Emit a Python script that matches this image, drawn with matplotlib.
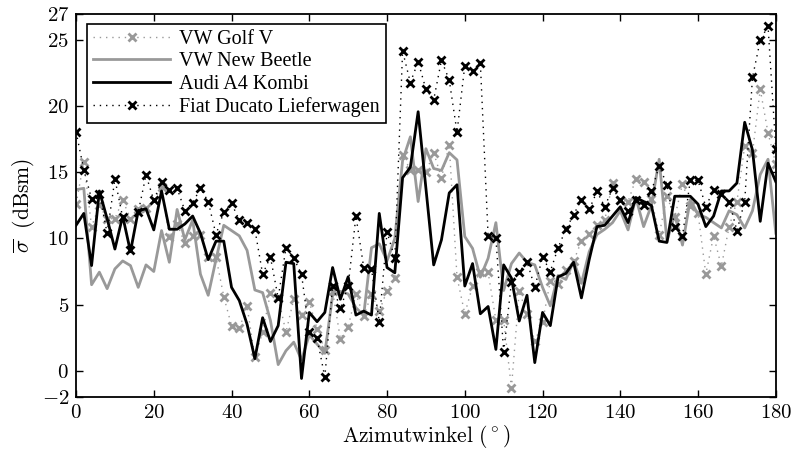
import numpy as np
import matplotlib
matplotlib.use("Agg")
import matplotlib.pyplot as plt

# Azimutwinkel in 2-Grad-Schritten
angles = np.arange(0, 181, 2)

golf = [12.6, 15.8, 10.9, 12.5, 11.5, 11.5, 12.9, 11.5, 12.2, 12.3,
        12.9, 13.9, 10.1, 11.1, 9.65, 10.2, 10.3, 8.6, 8.6, 5.6,
        3.4, 3.2, 4.85, 1.0, 2.9, 5.85, 5.55, 2.9, 5.4, 4.2,
        5.2, 3.15, 1.55, 6.0, 2.4, 3.3, 5.8, 4.1, 5.8, 4.5,
        6.06, 7.0, 16.3, 15.2, 15.15, 15.0, 16.5, 14.6, 17.1, 7.07,
        4.3, 6.4, 7.45, 7.45, 3.8, 3.8, -1.3, 6.0, 4.3, 2.2,
        3.66, 6.8, 6.56, 7.6, 8.3, 9.8, 10.35, 11.0, 11.4, 14.2,
        12.9, 12.8, 14.5, 14.3, 13.0, 10.3, 13.2, 11.6, 14.15, 12.45,
        11.9, 7.3, 10.2, 7.9, 10.9, 12.8, 17.0, 16.5, 21.3, 18.0,
        15.65]

beetle = [13.7, 13.8, 6.5, 7.45, 6.2, 7.7, 8.3, 7.95, 6.3, 8.0,
          7.5, 10.6, 8.2, 12.2, 9.9, 11.4, 7.3, 5.7, 8.4, 11.0,
          10.6, 10.2, 9.1, 6.1, 5.9, 3.8, 0.45, 1.5, 2.15, 0.8,
          2.7, 2.0, 1.3, 5.7, 6.0, 5.8, 4.75, 4.2, 9.3, 9.6,
          8.3, 10.0, 15.9, 17.7, 12.8, 16.8, 15.3, 15.15, 16.5, 15.95,
          10.15, 9.25, 7.07, 8.5, 11.2, 6.06, 8.1, 8.9, 8.2, 8.0,
          6.3, 4.9, 7.2, 6.9, 8.3, 6.6, 9.0, 10.3, 10.7, 11.2,
          12.1, 10.65, 13.1, 10.9, 12.5, 16.0, 9.8, 11.8, 9.5, 12.95,
          11.8, 11.6, 11.2, 10.8, 12.1, 11.8, 10.8, 12.1, 14.85, 16.0,
          10.4]

audi = [11.0, 11.9, 7.95, 13.6, 11.5, 9.2, 11.7, 9.0, 12.1, 12.25,
        10.65, 13.6, 10.7, 10.7, 11.1, 11.7, 10.4, 8.4, 9.8, 9.8,
        6.3, 5.3, 3.5, 0.9, 4.0, 2.2, 3.4, 8.2, 8.1, -0.6,
        4.4, 3.7, 4.4, 7.8, 5.4, 7.1, 4.2, 4.5, 4.2, 11.9,
        7.8, 7.4, 14.6, 15.4, 19.6, 13.8, 8.0, 9.9, 13.45, 14.07,
        6.4, 8.1, 4.3, 4.85, 1.6, 8.0, 7.0, 3.75, 5.7, 0.6,
        4.4, 3.4, 7.1, 7.35, 8.2, 5.5, 8.4, 10.9, 11.0, 11.7,
        12.4, 11.2, 13.1, 12.8, 12.5, 9.8, 9.7, 13.2, 13.2, 13.2,
        12.6, 10.9, 11.7, 13.6, 13.6, 14.2, 18.8, 16.7, 11.3, 15.7,
        14.3]

fiat = [18.1, 15.2, 13.0, 13.4, 10.4, 14.5, 11.6, 9.1, 12.0, 14.8,
        12.9, 14.3, 13.7, 13.8, 12.1, 12.7, 13.8, 12.8, 10.3, 12.0,
        12.65, 11.4, 11.2, 10.7, 7.3, 8.6, 5.5, 9.3, 8.5, 7.3,
        2.9, 2.45, -0.5, 6.4, 4.7, 6.4, 11.7, 7.8, 7.7, 3.7,
        10.5, 8.5, 24.2, 21.8, 23.4, 21.3, 20.5, 23.5, 22.0, 18.05,
        23.1, 22.65, 23.3, 10.2, 10.05, 1.4, 6.7, 7.45, 8.25, 6.3,
        8.6, 7.5, 9.3, 10.7, 11.8, 12.95, 12.2, 13.56, 12.4, 13.8,
        12.9, 12.05, 12.95, 12.5, 13.56, 15.5, 14.07, 10.9, 10.2, 14.4,
        14.4, 12.4, 13.7, 13.4, 12.8, 10.6, 12.8, 22.2, 25.0, 26.1,
        16.8]

labels = ["VW Golf V", "VW New Beetle", "Audi A4 Kombi", "Fiat Ducato Lieferwagen"]
xticks = [0, 20, 40, 60, 80, 100, 120, 140, 160, 180]
yticks = [-2, 0, 5, 10, 15, 20, 25, 27]

plt.rcParams['font.family'] = 'serif'
plt.rcParams['font.serif'] = ['cmr10']
plt.rcParams['mathtext.fontset'] = 'cm'
plt.rcParams['axes.formatter.use_mathtext'] = True

grey = '#999999'
dots = (0, (1, 3.5))

fig = plt.figure(figsize=(7.97, 4.67), dpi=100)
ax = fig.add_axes([0.0954, 0.150, 0.878, 0.820])

ax.plot(angles, golf, linestyle=dots, lw=1.0, color=grey, marker='x',
        ms=5.5, mew=2, label=labels[0])
ax.plot(angles, beetle, '-', lw=2, color=grey, label=labels[1])
ax.plot(angles, audi, '-', lw=2, color='black', label=labels[2])
ax.plot(angles, fiat, linestyle=dots, lw=1.0, color='black', marker='x',
        ms=5.5, mew=2, label=labels[3])

ax.set_xlim(0, 180)
ax.set_ylim(-2, 27)
ax.set_xticks(xticks)
ax.set_yticks(yticks)
ax.tick_params(direction='in', top=True, right=True, length=5, width=1,
               labelsize=15, pad=5)
for s in ax.spines.values():
    s.set_linewidth(1.3)

ax.set_xlabel(r'$\mathrm{Azimutwinkel\ (}{}^\circ\mathrm{)}$', fontsize=15.5, labelpad=1)
ax.set_ylabel(r'$\overline{\sigma}\ \ \mathrm{(dBsm)}$', fontsize=15.5, labelpad=3)

leg = ax.legend(loc='upper left', bbox_to_anchor=(0.016, 0.975),
                prop={'family': 'Liberation Serif', 'size': 14.5},
                handlelength=3.8, handletextpad=0.45, borderpad=0.3,
                borderaxespad=0, labelspacing=0.17, fancybox=False,
                framealpha=1, edgecolor='black', numpoints=1)
leg.get_frame().set_linewidth(1.2)

fig.savefig('out.png', dpi=100)
